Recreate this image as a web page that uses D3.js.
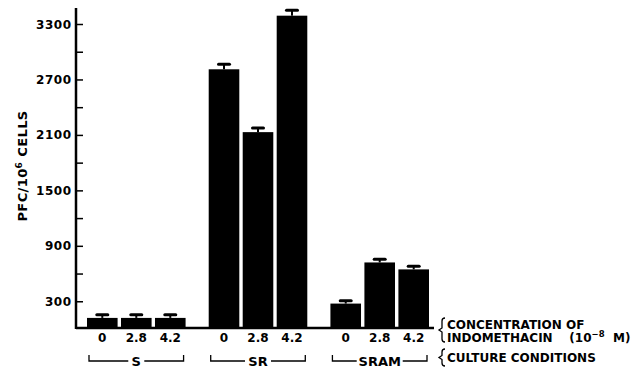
<!DOCTYPE html>
<html>
<head>
<meta charset="utf-8">
<script src="https://cdn.jsdelivr.net/npm/d3@7"></script>
<style>
  body { margin: 0; background: #fff; }
  svg text { font-family: "DejaVu Sans", "Liberation Sans", Arial, sans-serif; font-weight: bold; fill: #000; }
</style>
</head>
<body>
<div id="chart"></div>
<script>
// culture conditions and indomethacin concentrations
var groups = ["S", "SR", "SRAM"];
var doses = ["0", "2.8", "4.2"];

// PFC per 10^6 cells, one row per group
var pfcS = [120, 120, 120];
var pfcSR = [2810, 2130, 3390];
var pfcSRAM = [275, 720, 645];

// upper error bars
var errS = [35, 35, 35];
var errSR = [55, 45, 60];
var errSRAM = [30, 35, 35];

var yTicks = [300, 600, 900, 1200, 1500, 1800, 2100, 2400, 2700, 3000, 3300];
var yLabels = [300, 900, 1500, 2100, 2700, 3300];

var width = 631;
var height = 375;
var leftMargin = 76;
var baseY = 329;

// build bar list
var values = [pfcS, pfcSR, pfcSRAM];
var errors = [errS, errSR, errSRAM];
var bars = [];
groups.forEach(function(g, i) {
	doses.forEach(function(d, j) {
		bars.push({group: g, dose: d, value: values[i][j], err: errors[i][j]});
	});
});

var svg = d3.select("#chart")
	.append("svg")
	.attr("width", width)
	.attr("height", height);

// scales
var scaleY = d3.scaleLinear()
	.domain([0, 3300])
	.range([baseY, 24]);

var scaleGroup = d3.scaleBand()
	.domain(groups)
	.range([87, 429])
	.paddingInner(0.19)
	.paddingOuter(0);

var scaleDose = d3.scaleBand()
	.domain(doses)
	.range([0, scaleGroup.bandwidth()])
	.paddingInner(0.1);

// y axis
var yAxis = d3.axisRight(scaleY)
	.tickValues(yTicks)
	.tickSize(7)
	.tickFormat("");

var gy = svg.append("g")
	.attr("transform", "translate(" + leftMargin + ",0)")
	.call(yAxis);
gy.select(".domain").remove();
gy.selectAll("line").attr("stroke", "#000").attr("stroke-width", 1.5);

svg.append("line")
	.attr("x1", leftMargin).attr("x2", leftMargin)
	.attr("y1", 8).attr("y2", baseY)
	.attr("stroke", "#000").attr("stroke-width", 2.5);

svg.selectAll(".ylab")
	.data(yLabels)
	.enter()
	.append("text")
	.attr("class", "ylab")
	.attr("x", 71.5)
	.attr("y", function(d) { return scaleY(d) + 4.5; })
	.attr("text-anchor", "end")
	.style("font-size", "12px")
	.style("letter-spacing", "0.5px")
	.text(function(d) { return d; });

// y title
var title = svg.append("text")
	.attr("transform", "translate(27,166) rotate(-90)")
	.attr("text-anchor", "middle")
	.style("font-size", "13px")
	.style("letter-spacing", "0.4px");
title.append("tspan").text("PFC/10");
title.append("tspan").attr("dy", -5).style("font-size", "9px").text("6");
title.append("tspan").attr("dy", 5).text(" CELLS");

// x baseline
svg.append("line")
	.attr("x1", leftMargin).attr("x2", 434)
	.attr("y1", baseY - 1).attr("y2", baseY - 1)
	.attr("stroke", "#000").attr("stroke-width", 2.5);

// bars
function barX(d) { return scaleGroup(d.group) + scaleDose(d.dose); }

svg.selectAll(".bar")
	.data(bars)
	.enter()
	.append("rect")
	.attr("class", "bar")
	.attr("x", barX)
	.attr("y", function(d) { return scaleY(d.value); })
	.attr("width", scaleDose.bandwidth())
	.attr("height", function(d) { return baseY - scaleY(d.value); })
	.attr("fill", "#000");

// error bars
var eb = svg.selectAll(".err")
	.data(bars)
	.enter()
	.append("g")
	.attr("class", "err");
eb.append("line")
	.attr("x1", function(d) { return barX(d) + scaleDose.bandwidth() / 2; })
	.attr("x2", function(d) { return barX(d) + scaleDose.bandwidth() / 2; })
	.attr("y1", function(d) { return scaleY(d.value); })
	.attr("y2", function(d) { return scaleY(d.value + d.err); })
	.attr("stroke", "#000").attr("stroke-width", 2);
eb.append("line")
	.attr("x1", function(d) { return barX(d) + scaleDose.bandwidth() / 2 - 5.5; })
	.attr("x2", function(d) { return barX(d) + scaleDose.bandwidth() / 2 + 5.5; })
	.attr("y1", function(d) { return scaleY(d.value + d.err); })
	.attr("y2", function(d) { return scaleY(d.value + d.err); })
	.attr("stroke", "#000").attr("stroke-width", 3)
	.attr("stroke-linecap", "round");

// dose labels
svg.selectAll(".dlab")
	.data(bars)
	.enter()
	.append("text")
	.attr("class", "dlab")
	.attr("x", function(d) { return barX(d) + scaleDose.bandwidth() / 2; })
	.attr("y", 342)
	.attr("text-anchor", "middle")
	.style("font-size", "12px")
	.text(function(d) { return d.dose; });

// group brackets
var br = svg.selectAll(".brk")
	.data(groups)
	.enter()
	.append("g")
	.attr("class", "brk");
br.append("text")
	.attr("x", function(d) { return scaleGroup(d) + scaleGroup.bandwidth() / 2; })
	.attr("y", 366)
	.attr("text-anchor", "middle")
	.style("font-size", "13px")
	.text(function(d) { return d; });
br.append("path")
	.attr("fill", "none").attr("stroke", "#000").attr("stroke-width", 1.3)
	.attr("d", function(d) {
		var x0 = scaleGroup(d) + 2, x1 = scaleGroup(d) + scaleGroup.bandwidth() - 2;
		var xm = scaleGroup(d) + scaleGroup.bandwidth() / 2;
		var half = d.length * 5 + 3;
		return "M" + x0 + ",355V361H" + (xm - half) + "M" + (xm + half) + ",361H" + x1 + "V355";
	});

// right side notes
function brace(x, y0, y1) {
	var ym = (y0 + y1) / 2;
	return "M" + (x + 3) + "," + y0 + "Q" + x + "," + y0 + " " + x + "," + (y0 + 3) +
		"V" + (ym - 2) + "L" + (x - 3) + "," + ym + "L" + x + "," + (ym + 2) +
		"V" + (y1 - 3) + "Q" + x + "," + y1 + " " + (x + 3) + "," + y1;
}
svg.append("path")
	.attr("d", brace(442, 318, 342))
	.attr("fill", "none").attr("stroke", "#000").attr("stroke-width", 1.3);
svg.append("path")
	.attr("d", brace(442, 349, 366))
	.attr("fill", "none").attr("stroke", "#000").attr("stroke-width", 1.3);

svg.append("text")
	.attr("x", 447).attr("y", 329)
	.style("font-size", "12px")
	.text("CONCENTRATION OF");
var t2 = svg.append("text")
	.attr("x", 447).attr("y", 342)
	.style("font-size", "12px");
t2.append("tspan").text("INDOMETHACIN\u00a0\u00a0\u00a0 (10");
t2.append("tspan").attr("dy", -5).style("font-size", "8.5px").text("\u22128");
t2.append("tspan").attr("dy", 5).text("\u00a0 M)");
svg.append("text")
	.attr("x", 447).attr("y", 362)
	.style("font-size", "12px")
	.text("CULTURE CONDITIONS");
</script>
</body>
</html>
